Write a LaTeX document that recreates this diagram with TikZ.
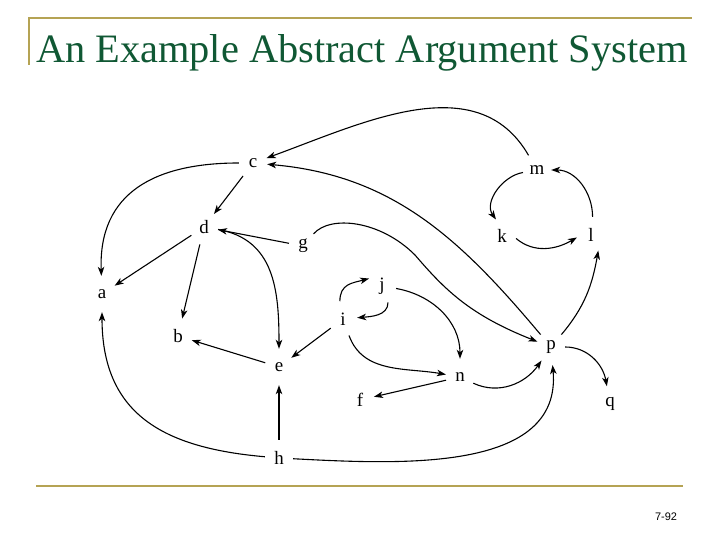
\documentclass[tikz,border=0pt]{standalone}
\usepackage{fontspec}
\setmainfont{Liberation Serif}
\newfontfamily\pagefont{Liberation Sans}
\usepackage{tikz}
\usetikzlibrary{arrows.meta,shapes.geometric}
\usepackage{xcolor}
\definecolor{titlegreen}{RGB}{16,88,52}
\definecolor{rulegold}{RGB}{181,163,84}

\begin{document}
\begin{tikzpicture}[x=1bp,y=1bp,
  arg/.style={ellipse,inner sep=0pt,minimum width=28bp,minimum height=36bp,font=\fontsize{19}{19}\selectfont},
  att/.style={-{Stealth[length=9bp,width=6.5bp,inset=2.5bp]},line width=1.1bp}]
\useasboundingbox (0,0) rectangle (720,540);
% slide frame
\draw[rulegold,line width=2.5bp] (29,475) -- (29,522) -- (692,522);
\draw[rulegold,line width=2.5bp] (36,54) -- (683,54);
\node[anchor=base west,inner sep=0pt,text=titlegreen,font=\fontsize{40.5}{40.5}\selectfont] (title) at (36,477) {An Example Abstract Argument System};
\node[font=\pagefont\fontsize{11}{11}\selectfont] (page) at (666,23) {7-92};
% arguments
\node[arg] (c) at (253,377) {c};
\node[arg] (m) at (537,370) {m};
\node[arg] (d) at (204,313) {d};
\node[arg] (g) at (303,294) {g};
\node[arg] (k) at (502,304) {k};
\node[arg] (l) at (591,305) {l};
\node[arg] (a) at (102,246) {a};
\node[arg] (j) at (382,254) {j};
\node[arg] (i) at (343,221) {i};
\node[arg] (b) at (178,204) {b};
\node[arg] (p) at (551,193) {p};
\node[arg] (e) at (279,173) {e};
\node[arg] (n) at (460,163) {n};
\node[arg] (f) at (360,140) {f};
\node[arg] (q) at (610,136) {q};
\node[arg] (h) at (279,82) {h};
% attacks
\draw[att] (m) to[out=120,in=20] (c);
\draw[att] (c) to[out=180,in=92,looseness=1.2] (a);
\draw[att] (c) -- (d);
\draw[att] (g) -- (d);
\draw[att] (p) to[out=130,in=-5] (c);
\draw[att] (d) -- (a);
\draw[att] (d) -- (b);
\draw[att] (d) to[out=-10,in=90,looseness=1.1] (e);
\draw[att] (g) .. controls (330,325) and (380,320) .. (415,285) .. controls (445,250) and (470,225) .. (p);
\draw[att] (i.100) to[out=90,in=195,looseness=1.2] (j.150);
\draw[att] (j.-70) to[out=-90,in=5] (i);
\draw[att] (j) to[out=-10,in=90] (n);
\draw[att] (i) to[out=-70,in=170] (n);
\draw[att] (i) -- (e);
\draw[att] (e) -- (b);
\draw[att] (h) -- (e);
\draw[att] (h) to[out=175,in=-90,looseness=1.2] (a);
\draw[att] (h) to[out=-3,in=-85] (p);
\draw[att] (n) -- (f);
\draw[att] (n) to[out=-25,in=-125] (p);
\draw[att] (p) to[out=0,in=100] (q);
\draw[att] (p) to[out=50,in=-100] (l.-65);
\draw[att] (m) to[out=190,in=125] (k.110);
\draw[att] (k.-10) to[out=-40,in=-150] (l.190);
\draw[att] (l.85) to[out=90,in=0] (m);
\end{tikzpicture}
\end{document}
